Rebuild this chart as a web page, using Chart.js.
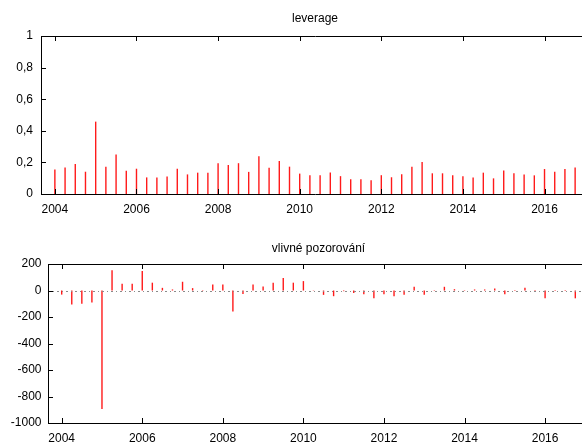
<!DOCTYPE html>
<html>
<head>
<meta charset="utf-8">
<script src="https://cdn.jsdelivr.net/npm/chart.js@4/dist/chart.umd.min.js"></script>
<style>
  html, body { margin: 0; padding: 0; background: #fff; overflow: hidden; }
  #wrap { position: relative; width: 582px; height: 443px; overflow: hidden; }
  .panel { position: absolute; left: 0; width: 600px; }
  #top { top: 0; height: 222px; }
  #bottom { top: 222px; height: 221px; }
</style>
</head>
<body>
<div id="wrap">
  <div class="panel" id="top"><canvas id="c1" width="600" height="222"></canvas></div>
  <div class="panel" id="bottom"><canvas id="c2" width="600" height="221"></canvas></div>
</div>
<script>
// Quarterly observations, 2004:1 - 2016:4
const periods = [
  '2004:1','2004:2','2004:3','2004:4',
  '2005:1','2005:2','2005:3','2005:4',
  '2006:1','2006:2','2006:3','2006:4',
  '2007:1','2007:2','2007:3','2007:4',
  '2008:1','2008:2','2008:3','2008:4',
  '2009:1','2009:2','2009:3','2009:4',
  '2010:1','2010:2','2010:3','2010:4',
  '2011:1','2011:2','2011:3','2011:4',
  '2012:1','2012:2','2012:3','2012:4',
  '2013:1','2013:2','2013:3','2013:4',
  '2014:1','2014:2','2014:3','2014:4',
  '2015:1','2015:2','2015:3','2015:4',
  '2016:1','2016:2','2016:3','2016:4'
];

const leverage = [
  0.155, 0.168, 0.190, 0.141,
  0.458, 0.173, 0.250, 0.147,
  0.160, 0.105, 0.105, 0.111,
  0.160, 0.124, 0.135, 0.135,
  0.194, 0.184, 0.195, 0.140,
  0.239, 0.166, 0.209, 0.173,
  0.129, 0.119, 0.119, 0.136,
  0.113, 0.094, 0.094, 0.087,
  0.119, 0.106, 0.125, 0.173,
  0.203, 0.131, 0.131, 0.118,
  0.112, 0.105, 0.135, 0.099,
  0.148, 0.131, 0.124, 0.118,
  0.158, 0.141, 0.158, 0.167
];

const influence = [
  -31, -106, -100, -91,
  -895, 153, 51, 51,
  148, 59, 20, 8,
  66, 18, 3, 46,
  46, -158, -27, 46,
  31, 59, 94, 59,
  71, 2, -33, -43,
  -5, -18, -28, -59,
  -28, -43, -33, 28,
  -33, -3, 28, 10,
  3, 8, 8, 15,
  -28, -3, 20, 3,
  -59, -3, 3, -59
];

const yearTicks = [2004, 2006, 2008, 2010, 2012, 2014, 2016];
const leverageTicks = [0, 0.2, 0.4, 0.6, 0.8, 1];
const influenceTicks = [-1000, -800, -600, -400, -200, 0, 200];

const xRange = [2003.66, 2017.09];

// period "YYYY:Q" -> decimal year for the time axis
function periodToYear(p) {
  const [y, q] = p.split(':').map(Number);
  return y + (q - 1) / 4;
}

function commaNumber(v) {
  const r = Math.round(v * 10) / 10;
  return String(r).replace('.', ',');
}

const FONT = { family: '"Liberation Sans", Arial, sans-serif', size: 12 };

// Box frame with inward tick marks on all four sides, plus an optional zero line
const framePlugin = {
  id: 'frame',
  afterDatasetsDraw(chart, args, opts) {
    const { ctx, chartArea: a, scales } = chart;
    const xs = scales.x, ys = scales.y;
    ctx.save();
    if (opts.zeroLine) {
      const y0 = Math.round(ys.getPixelForValue(0)) + 0.5;
      ctx.strokeStyle = '#8a8a8a';
      ctx.lineWidth = 1;
      ctx.setLineDash([2, 3, 1, 3]);
      ctx.beginPath();
      ctx.moveTo(a.left, y0);
      ctx.lineTo(a.right, y0);
      ctx.stroke();
      ctx.setLineDash([]);
    }
    ctx.strokeStyle = '#000';
    ctx.lineWidth = 1;
    ctx.beginPath();
    ctx.rect(Math.round(a.left) + 0.5, Math.round(a.top) + 0.5,
             Math.round(a.right - a.left), Math.round(a.bottom - a.top));
    ctx.stroke();
    const tl = 5;
    ctx.beginPath();
    xs.ticks.forEach(t => {
      const x = Math.round(xs.getPixelForValue(t.value)) + 0.5;
      ctx.moveTo(x, a.top); ctx.lineTo(x, a.top + tl);
      ctx.moveTo(x, a.bottom); ctx.lineTo(x, a.bottom - tl);
    });
    ys.ticks.forEach(t => {
      const y = Math.round(ys.getPixelForValue(t.value)) + 0.5;
      ctx.moveTo(a.left, y); ctx.lineTo(a.left + tl, y);
      ctx.moveTo(a.right, y); ctx.lineTo(a.right - tl, y);
    });
    ctx.stroke();
    ctx.restore();
  }
};

function spikeChart(canvasId, cfg) {
  return new Chart(document.getElementById(canvasId), {
    type: 'bar',
    data: {
      datasets: [{
        data: periods.map((p, i) => ({ x: periodToYear(p), y: cfg.values[i] })),
        backgroundColor: '#ff1a1a',
        barThickness: 1.4,
        inflateAmount: 0,
        borderWidth: 0
      }]
    },
    options: {
      responsive: false,
      animation: false,
      layout: { padding: { left: 0, right: 11, top: 0, bottom: 0 } },
      plugins: {
        legend: { display: false },
        tooltip: { enabled: false },
        title: {
          display: true,
          text: cfg.title,
          fullSize: false,
          color: '#000',
          font: { ...FONT, weight: 'normal' },
          padding: cfg.titlePadding
        },
        frame: { zeroLine: cfg.zeroLine }
      },
      scales: {
        x: {
          type: 'linear',
          min: xRange[0],
          max: xRange[1],
          offset: false,
          grid: { display: false, drawTicks: false },
          border: { display: false },
          afterBuildTicks: s => { s.ticks = yearTicks.map(v => ({ value: v })); },
          afterFit: s => { s.height = cfg.xAxisHeight; },
          ticks: {
            color: '#000',
            font: FONT,
            padding: cfg.xPad,
            maxRotation: 0,
            autoSkip: false,
            callback: v => String(v)
          }
        },
        y: {
          min: cfg.yMin,
          max: cfg.yMax,
          grid: { display: false, drawTicks: false },
          border: { display: false },
          afterBuildTicks: s => { s.ticks = cfg.yTicks.map(v => ({ value: v })); },
          afterFit: s => { s.width = cfg.yAxisWidth; },
          ticks: {
            color: '#000',
            font: FONT,
            padding: cfg.yPad,
            callback: cfg.yFormat
          }
        }
      }
    },
    plugins: [framePlugin]
  });
}

spikeChart('c1', {
  title: 'leverage',
  values: leverage,
  yMin: 0, yMax: 1,
  yTicks: leverageTicks,
  yFormat: v => commaNumber(v),
  titlePadding: { top: 11, bottom: 10.6 },
  xAxisHeight: 28,
  yAxisWidth: 41,
  xPad: 8,
  yPad: 8,
  zeroLine: false
});

spikeChart('c2', {
  title: 'vlivné pozorování',
  values: influence,
  yMin: -1000, yMax: 200,
  yTicks: influenceTicks,
  yFormat: v => String(v),
  titlePadding: { top: 19.8, bottom: 7.8 },
  xAxisHeight: 20,
  yAxisWidth: 48,
  xPad: 8,
  yPad: 6.5,
  zeroLine: true
});
</script>
</body>
</html>
